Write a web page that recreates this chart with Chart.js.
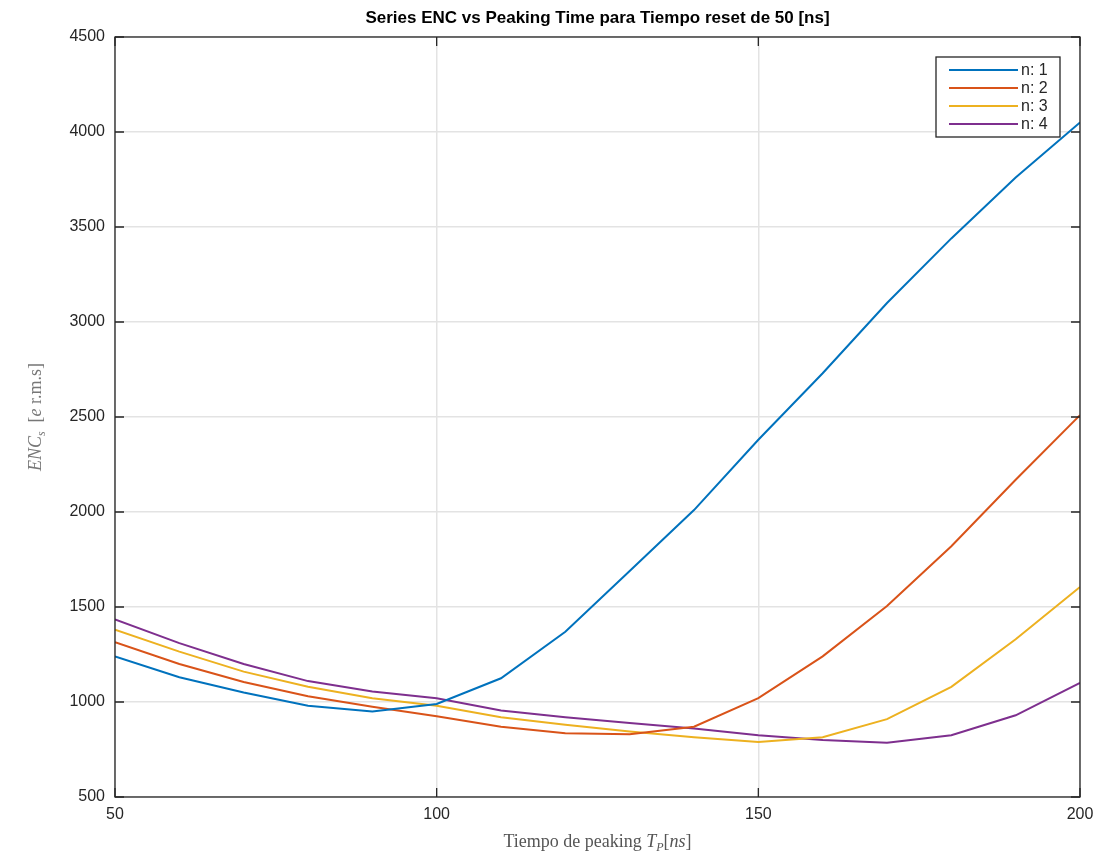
<!DOCTYPE html>
<html>
<head>
<meta charset="utf-8">
<script src="https://cdn.jsdelivr.net/npm/chart.js@4.4.1/dist/chart.umd.min.js"></script>
<style>
  html, body { margin: 0; padding: 0; background: #fff; }
  #wrap { width: 1117px; height: 854px; }
</style>
</head>
<body>
<div id="wrap"><canvas id="encChart" width="1117" height="854"></canvas></div>
<script>
// Tiempo de peaking [ns]
const peakingTime = [50, 60, 70, 80, 90, 100, 110, 120, 130, 140, 150, 160, 170, 180, 190, 200];

// ENC para n = 1..4
const encN1 = [1240, 1130, 1050, 980, 950, 990, 1125, 1370, 1690, 2010, 2380, 2730, 3100, 3440, 3760, 4050];
const encN2 = [1315, 1200, 1105, 1030, 975, 925, 870, 835, 830, 870, 1020, 1240, 1505, 1820, 2170, 2510];
const encN3 = [1380, 1265, 1160, 1080, 1020, 980, 920, 880, 845, 815, 790, 815, 910, 1080, 1330, 1605];
const encN4 = [1435, 1310, 1200, 1110, 1055, 1020, 955, 920, 890, 860, 825, 800, 785, 825, 930, 1100];

const seriesLabels = ['n: 1', 'n: 2', 'n: 3', 'n: 4'];
const seriesColors = ['#0072BD', '#D95319', '#EDB120', '#7E2F8E'];

const xTicks = [50, 100, 150, 200];
const yTicks = [500, 1000, 1500, 2000, 2500, 3000, 3500, 4000, 4500];

const toPoints = arr => arr.map((v, i) => ({ x: peakingTime[i], y: v }));

// marco, ticks hacia dentro, titulos y leyenda estilo matlab
const matlabFrame = {
    id: 'matlabFrame',
    afterDatasetsDraw(chart) {
        const { ctx, chartArea: a, scales: { x, y } } = chart;
        ctx.save();
        ctx.strokeStyle = '#262626';
        ctx.lineWidth = 1.3;
        ctx.strokeRect(a.left, a.top, a.right - a.left, a.bottom - a.top);
        const tl = 9;
        ctx.beginPath();
        xTicks.forEach(t => {
            const px = x.getPixelForValue(t);
            ctx.moveTo(px, a.bottom); ctx.lineTo(px, a.bottom - tl);
            ctx.moveTo(px, a.top); ctx.lineTo(px, a.top + tl);
        });
        yTicks.forEach(t => {
            const py = y.getPixelForValue(t);
            ctx.moveTo(a.left, py); ctx.lineTo(a.left + tl, py);
            ctx.moveTo(a.right, py); ctx.lineTo(a.right - tl, py);
        });
        ctx.stroke();

        // titulo
        ctx.fillStyle = '#000';
        ctx.font = 'bold 17px "Liberation Sans Narrow", "Liberation Sans", sans-serif';
        ctx.textAlign = 'center';
        ctx.textBaseline = 'middle';
        ctx.fillText('Series ENC vs Peaking Time para Tiempo reset de 50 [ns]', (a.left + a.right) / 2, 18);

        // titulo eje x: Tiempo de peaking T_P[ns]
        ctx.fillStyle = '#555';
        const serif = '"Liberation Serif", "DejaVu Serif", serif';
        const parts = [
            { t: 'Tiempo de peaking ', f: '18px ' + serif, dy: 0 },
            { t: 'T', f: 'italic 18px ' + serif, dy: 0 },
            { t: 'P', f: 'italic 12px ' + serif, dy: 4 },
            { t: '[', f: '18px ' + serif, dy: 0 },
            { t: 'ns', f: 'italic 18px ' + serif, dy: 0 },
            { t: ']', f: '18px ' + serif, dy: 0 }
        ];
        let total = 0;
        parts.forEach(p => { ctx.font = p.f; p.w = ctx.measureText(p.t).width; total += p.w; });
        let cx = (a.left + a.right) / 2 - total / 2;
        ctx.textAlign = 'left';
        ctx.textBaseline = 'alphabetic';
        parts.forEach(p => { ctx.font = p.f; ctx.fillText(p.t, cx, 847 + p.dy); cx += p.w; });

        // titulo eje y: ENC_s [e r.m.s]
        ctx.fillStyle = '#777';
        const yParts = [
            { t: 'ENC', f: 'italic 18px ' + serif, dy: 0 },
            { t: 's', f: 'italic 12px ' + serif, dy: 4 },
            { t: '  [', f: '18px ' + serif, dy: 0 },
            { t: 'e', f: 'italic 18px ' + serif, dy: 0 },
            { t: ' r.m.s]', f: '18px ' + serif, dy: 0 }
        ];
        total = 0;
        yParts.forEach(p => { ctx.font = p.f; p.w = ctx.measureText(p.t).width; total += p.w; });
        ctx.save();
        ctx.translate(41, (a.top + a.bottom) / 2);
        ctx.rotate(-Math.PI / 2);
        cx = -total / 2;
        yParts.forEach(p => { ctx.font = p.f; ctx.fillText(p.t, cx, p.dy); cx += p.w; });
        ctx.restore();

        // leyenda
        const bx = 936, by = 57, bw = 124, bh = 80;
        ctx.fillStyle = '#fff';
        ctx.fillRect(bx, by, bw, bh);
        ctx.strokeStyle = '#262626';
        ctx.lineWidth = 1.3;
        ctx.strokeRect(bx, by, bw, bh);
        ctx.font = '16px "Liberation Sans", sans-serif';
        ctx.textBaseline = 'middle';
        chart.data.datasets.forEach((ds, i) => {
            const ry = by + 13 + i * 18;
            ctx.strokeStyle = ds.borderColor;
            ctx.lineWidth = 2;
            ctx.beginPath();
            ctx.moveTo(bx + 13, ry); ctx.lineTo(bx + 82, ry);
            ctx.stroke();
            ctx.fillStyle = '#262626';
            ctx.fillText(ds.label, bx + 85, ry + 1);
        });
        ctx.restore();
    }
};

new Chart(document.getElementById('encChart'), {
    type: 'line',
    data: {
        datasets: [encN1, encN2, encN3, encN4].map((arr, i) => ({
            label: seriesLabels[i],
            data: toPoints(arr),
            borderColor: seriesColors[i],
            backgroundColor: seriesColors[i],
            borderWidth: 2,
            pointRadius: 0,
            tension: 0
        }))
    },
    options: {
        responsive: false,
        animation: false,
        layout: { padding: { top: 37, right: 37, left: 0, bottom: 0 } },
        plugins: {
            legend: { display: false },
            title: { display: false },
            tooltip: { enabled: false }
        },
        scales: {
            x: {
                type: 'linear',
                min: 50, max: 200,
                afterBuildTicks: s => { s.ticks = xTicks.map(v => ({ value: v })); },
                afterFit: s => { s.height = 57; },
                grid: { color: '#e3e3e3', lineWidth: 1.5, drawTicks: false },
                border: { display: false },
                ticks: {
                    color: '#262626',
                    padding: 8,
                    callback: v => String(v),
                    font: { family: '"Liberation Sans", sans-serif', size: 16 }
                }
            },
            y: {
                min: 500, max: 4500,
                afterBuildTicks: s => { s.ticks = yTicks.map(v => ({ value: v })); },
                afterFit: s => { s.width = 115; },
                grid: { color: '#e3e3e3', lineWidth: 1.5, drawTicks: false },
                border: { display: false },
                ticks: {
                    color: '#262626',
                    padding: 10,
                    callback: v => String(v),
                    font: { family: '"Liberation Sans", sans-serif', size: 16 }
                }
            }
        }
    },
    plugins: [matlabFrame]
});
</script>
</body>
</html>
